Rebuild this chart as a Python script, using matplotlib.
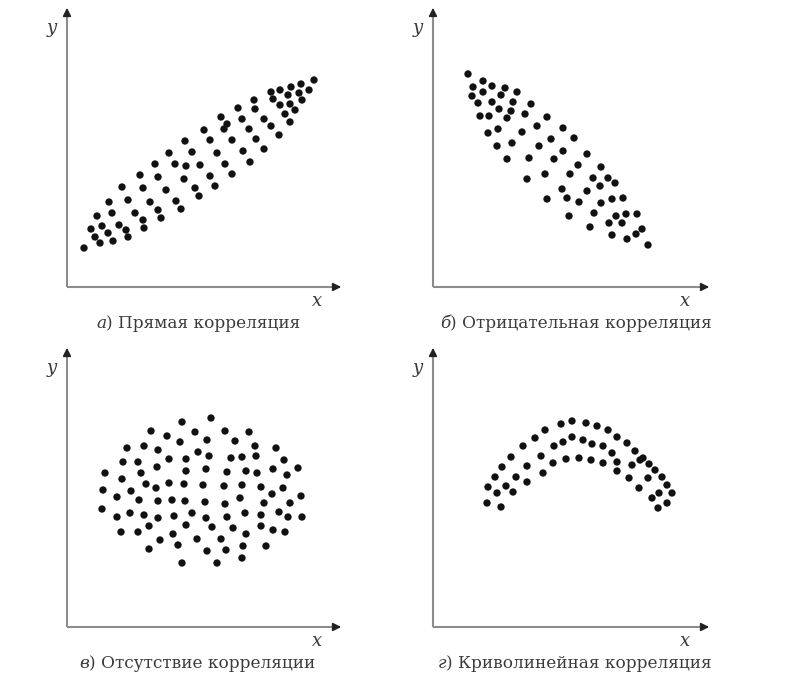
import matplotlib
matplotlib.use('Agg')
import matplotlib.pyplot as plt
import numpy as np

# --- data (units ~ pixels from the axes origin) ---
direct_x = [247, 234, 224, 213, 204, 242, 232, 221, 206, 235, 223, 213, 228, 218, 223,
            187, 171, 188, 197, 175, 204, 212, 154, 160, 157, 137, 182, 189, 197, 143,
            165, 118, 102, 125, 150, 176, 183, 88, 108, 119, 133, 158, 73, 91, 117,
            143, 165, 55, 76, 99, 128, 148, 132, 42, 61, 83, 109, 114, 45, 68, 91,
            94, 30, 76, 24, 35, 52, 59, 77, 28, 41, 61, 33, 46, 17]
direct_y = [207, 203, 200, 197, 195, 197, 194, 192, 188, 187, 183, 182, 177, 173, 165,
            187, 179, 178, 168, 168, 161, 152, 170, 163, 158, 157, 158, 148, 138, 147,
            147, 146, 134, 135, 134, 136, 125, 123, 123, 121, 122, 123, 112, 110, 108,
            111, 113, 100, 99, 97, 99, 101, 91, 85, 87, 85, 86, 78, 74, 74, 77,
            69, 71, 67, 58, 61, 62, 57, 59, 50, 54, 50, 44, 46, 39]

negative_x = [35, 50, 40, 59, 72, 50, 39, 68, 84, 45, 59, 80, 66, 78, 98, 47, 56, 74,
              92, 114, 65, 55, 89, 104, 130, 118, 141, 64, 79, 106, 130, 154, 74, 96,
              121, 145, 168, 112, 137, 160, 175, 182, 94, 129, 167, 154, 114, 134, 146,
              168, 179, 190, 161, 183, 193, 204, 136, 176, 189, 157, 179, 194, 203, 209, 215]
negative_y = [213, 206, 200, 201, 199, 195, 191, 192, 195, 184, 185, 185, 178, 176, 183,
              171, 171, 169, 173, 170, 158, 154, 155, 161, 159, 148, 149, 141, 144, 141,
              136, 133, 128, 129, 128, 122, 120, 113, 113, 109, 109, 104, 108, 98, 101,
              96, 88, 89, 85, 84, 88, 89, 74, 71, 73, 73, 71, 64, 64, 60, 52, 48, 53, 58, 42]

none_x = [115, 144, 84, 100, 128, 158, 182, 113, 140, 168, 60, 77, 91, 131, 142, 188, 209,
          56, 71, 102, 119, 164, 175, 189, 217, 38, 74, 90, 119, 139, 160, 179, 190, 206,
          220, 231, 55, 79, 89, 102, 117, 136, 157, 175, 194, 216, 36, 64, 50, 72, 91,
          105, 118, 138, 158, 173, 205, 197, 223, 234, 35, 50, 63, 77, 91, 107, 125, 139,
          160, 178, 194, 212, 221, 235, 54, 71, 82, 119, 145, 166, 194, 206, 218, 106, 93,
          130, 154, 179, 82, 111, 140, 159, 176, 199, 115, 150, 175]
none_y = [205, 209, 196, 191, 195, 196, 195, 185, 187, 186, 179, 181, 177, 175, 171, 181, 179,
          165, 165, 168, 168, 169, 170, 171, 167, 154, 154, 160, 156, 158, 155, 156, 154, 158,
          152, 159, 148, 143, 139, 144, 143, 142, 141, 142, 140, 139, 137, 136, 130, 127, 126,
          127, 126, 125, 123, 129, 133, 124, 124, 131, 118, 110, 114, 112, 109, 111, 114, 109,
          110, 114, 112, 115, 110, 110, 95, 95, 101, 102, 100, 99, 101, 97, 95, 93, 87,
          88, 88, 93, 78, 82, 76, 77, 81, 81, 64, 64, 69]

curve_x = [54, 55, 62, 69, 78, 90, 102, 112, 128, 139, 153, 164, 175, 184, 194, 202, 210,
           216, 222, 229, 234, 239, 234, 225,
           64, 73, 83, 94, 108, 121, 130, 139, 150, 159, 170, 179, 184, 199, 207, 215, 226, 219,
           68, 80, 94, 110, 120, 133, 146, 158, 170, 184, 196, 206]
curve_y = [124, 140, 150, 160, 170, 181, 189, 197, 203, 206, 204, 201, 197, 190, 184, 176, 169,
           163, 157, 150, 142, 134, 124, 119,
           134, 141, 150, 161, 171, 181, 185, 190, 187, 183, 181, 174, 165, 162, 167, 149, 134, 129,
           120, 135, 145, 154, 164, 168, 169, 167, 164, 156, 149, 139]

captions = ['а', 'б', 'в', 'г']
caption_texts = [') Прямая корреляция', ') Отрицательная корреляция',
                 ') Отсутствие корреляции', ') Криволинейная корреляция']

W, H = 802, 694
fig = plt.figure(figsize=(W / 100, H / 100), dpi=100, facecolor='white')

# origin of every panel in picture pixels, plus length of the arrows
panels = [(67, 287, 277, 282), (433, 287, 279, 282),
          (67, 627, 277, 282), (433, 627, 279, 282)]
series = [(direct_x, direct_y), (negative_x, negative_y),
          (none_x, none_y), (curve_x, curve_y)]
caption_split = [106, 450, 89, 446]

SERIF = ['DejaVu Serif']
AX_GRAY = '#8c8c8c'
HEAD = '#222222'
TXT = '#3a3a3a'

for (ox, oy, aw, ah), (xs, ys), let, txt, sx in zip(panels, series, captions,
                                                     caption_texts, caption_split):
    ax = fig.add_axes([ox / W, (H - oy) / H, aw / W, ah / H])
    ax.set_xlim(0, aw)
    ax.set_ylim(0, ah)
    ax.axis('off')

    # axes lines with arrow heads
    ax.plot([0, aw - 8], [0, 0], color=AX_GRAY, lw=1.5, clip_on=False, solid_capstyle='butt')
    ax.plot([0, 0], [0, ah - 8], color=AX_GRAY, lw=1.5, clip_on=False, solid_capstyle='butt')
    ax.annotate('', xy=(aw, 0), xytext=(aw - 12, 0),
                arrowprops=dict(arrowstyle='-|>', color=HEAD, lw=1.2, mutation_scale=12),
                annotation_clip=False)
    ax.annotate('', xy=(0, ah), xytext=(0, ah - 12),
                arrowprops=dict(arrowstyle='-|>', color=HEAD, lw=1.2, mutation_scale=12),
                annotation_clip=False)

    ax.scatter(xs, ys, s=28, color='#111111', edgecolors='none', zorder=3, clip_on=False)

    # axis names
    fig.text((ox - 15) / W, (H - (oy - 259)) / H, 'y', family=SERIF, style='italic',
             fontsize=13, color=TXT, ha='center', va='center')
    fig.text((ox + aw - 27) / W, (H - (oy + 14)) / H, 'x', family=SERIF, style='italic',
             fontsize=13, color=TXT, ha='center', va='center')

    # caption under the panel
    fig.text(sx / W, (H - (oy + 37)) / H, let, family=SERIF, style='italic',
             fontsize=12.2, color=TXT, ha='right', va='center')
    fig.text(sx / W, (H - (oy + 37)) / H, txt, family=SERIF,
             fontsize=12.2, color=TXT, ha='left', va='center')

plt.savefig('out.png', dpi=100, facecolor='white')
